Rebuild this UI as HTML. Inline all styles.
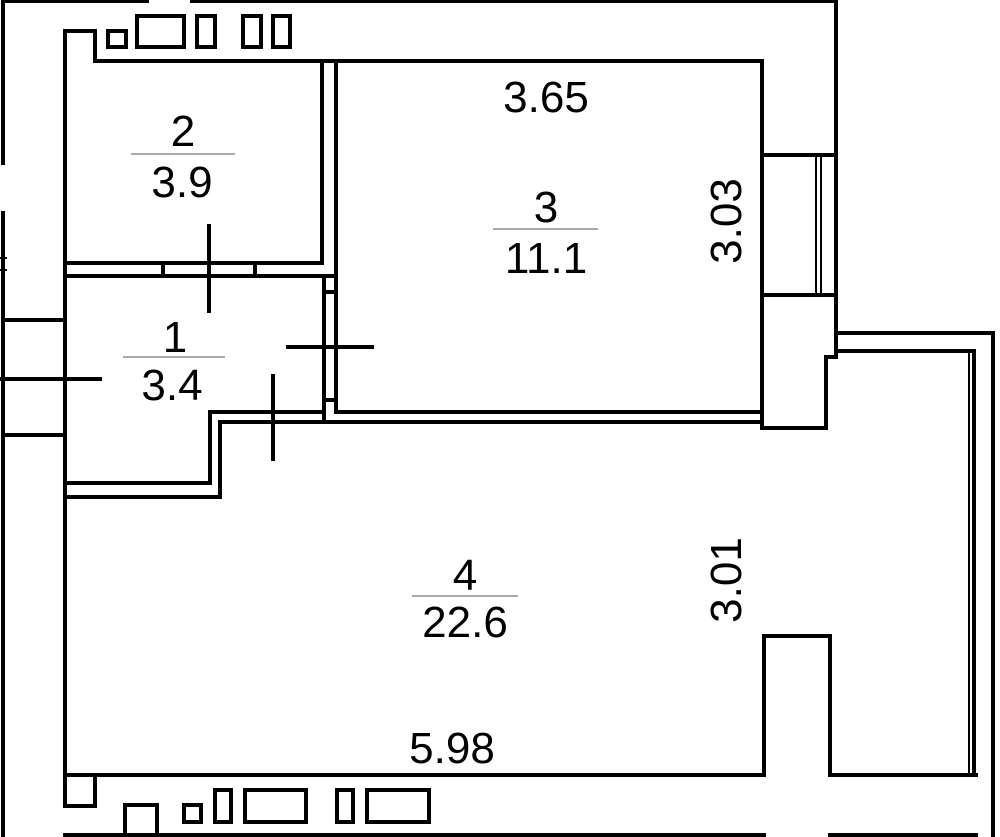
<!DOCTYPE html>
<html><head><style>body{margin:0;background:#fff}svg{display:block}text{font-family:"Liberation Sans",sans-serif;fill:#000}</style></head>
<body>
<svg width="1000" height="837" viewBox="0 0 1000 837" xmlns="http://www.w3.org/2000/svg">
<g fill="none" stroke="#000" stroke-width="4" stroke-linecap="square">
<polyline points="147,1 3,1 3,163"/>
<line x1="192" y1="1" x2="836" y2="1"/>
<line x1="3" y1="213" x2="3" y2="837"/>
<line x1="0" y1="258" x2="6" y2="258" stroke-width="2"/>
<line x1="0" y1="270" x2="6" y2="270" stroke-width="2"/>
<line x1="3" y1="320" x2="65" y2="320"/>
<line x1="3" y1="435" x2="65" y2="435"/>
<line x1="0" y1="379" x2="100" y2="379"/>
<polyline points="95,61 95,31 65,31 65,806 95,806 95,775"/>
<line x1="95" y1="61" x2="762" y2="61"/>
<rect x="108" y="31" width="18" height="16"/>
<rect x="137" y="16" width="47" height="31"/>
<rect x="197" y="16" width="18" height="31"/>
<rect x="243" y="16" width="18" height="31"/>
<rect x="273" y="16" width="17" height="31"/>
<polyline points="322,61 322,263 65,263"/>
<line x1="65" y1="276" x2="336" y2="276"/>
<line x1="163" y1="263" x2="163" y2="276"/>
<line x1="255" y1="263" x2="255" y2="276"/>
<line x1="336" y1="61" x2="336" y2="412"/>
<line x1="209" y1="226" x2="209" y2="311"/>
<line x1="324" y1="276" x2="324" y2="422"/>
<line x1="324" y1="292" x2="336" y2="292"/>
<line x1="324" y1="400" x2="336" y2="400"/>
<line x1="288" y1="347" x2="372" y2="347"/>
<line x1="336" y1="412" x2="762" y2="412"/>
<polyline points="762,422 220,422 220,497 65,497"/>
<polyline points="65,483 210,483 210,412 324,412"/>
<line x1="273" y1="376" x2="273" y2="459"/>
<polyline points="762,61 762,428 826,428 826,357 836,357"/>
<line x1="836" y1="0" x2="836" y2="357"/>
<line x1="762" y1="155" x2="836" y2="155"/>
<line x1="762" y1="295" x2="836" y2="295"/>
<line x1="816" y1="157" x2="816" y2="293" stroke-width="2"/>
<line x1="821" y1="157" x2="821" y2="293" stroke-width="2"/>
<polyline points="836,333 993,333 993,837"/>
<polyline points="836,351 974,351 974,775"/>
<line x1="969" y1="351" x2="969" y2="775" stroke-width="2"/>
<polyline points="764,775 764,636 830,636 830,775"/>
<line x1="65" y1="775" x2="764" y2="775"/>
<line x1="830" y1="775" x2="976" y2="775"/>
<line x1="65" y1="835" x2="764" y2="835"/>
<line x1="830" y1="835" x2="976" y2="835"/>
<polyline points="125,837 125,805 157,805 157,837"/>
<rect x="184" y="805" width="17" height="17"/>
<rect x="215" y="790" width="16" height="32"/>
<rect x="245" y="790" width="61" height="32"/>
<rect x="337" y="790" width="16" height="32"/>
<rect x="367" y="790" width="62" height="32"/>
</g>
<g stroke="#555" stroke-width="1">
<line x1="131" y1="154" x2="235" y2="154"/>
<line x1="123" y1="357" x2="225" y2="357"/>
<line x1="493" y1="229" x2="598" y2="229"/>
<line x1="412" y1="596" x2="518" y2="596"/>
</g>
<g font-size="44" text-anchor="middle">
<text x="546" y="112">3.65</text>
<text x="183" y="146">2</text>
<text x="182" y="197">3.9</text>
<text x="175" y="352">1</text>
<text x="172" y="400">3.4</text>
<text x="546" y="222">3</text>
<text x="546" y="273">11.1</text>
<text x="465" y="590">4</text>
<text x="465" y="637">22.6</text>
<text x="452" y="763">5.98</text>
<text transform="translate(741,221) rotate(-90)">3.03</text>
<text transform="translate(741,580) rotate(-90)">3.01</text>
</g>
</svg>
</body></html>
